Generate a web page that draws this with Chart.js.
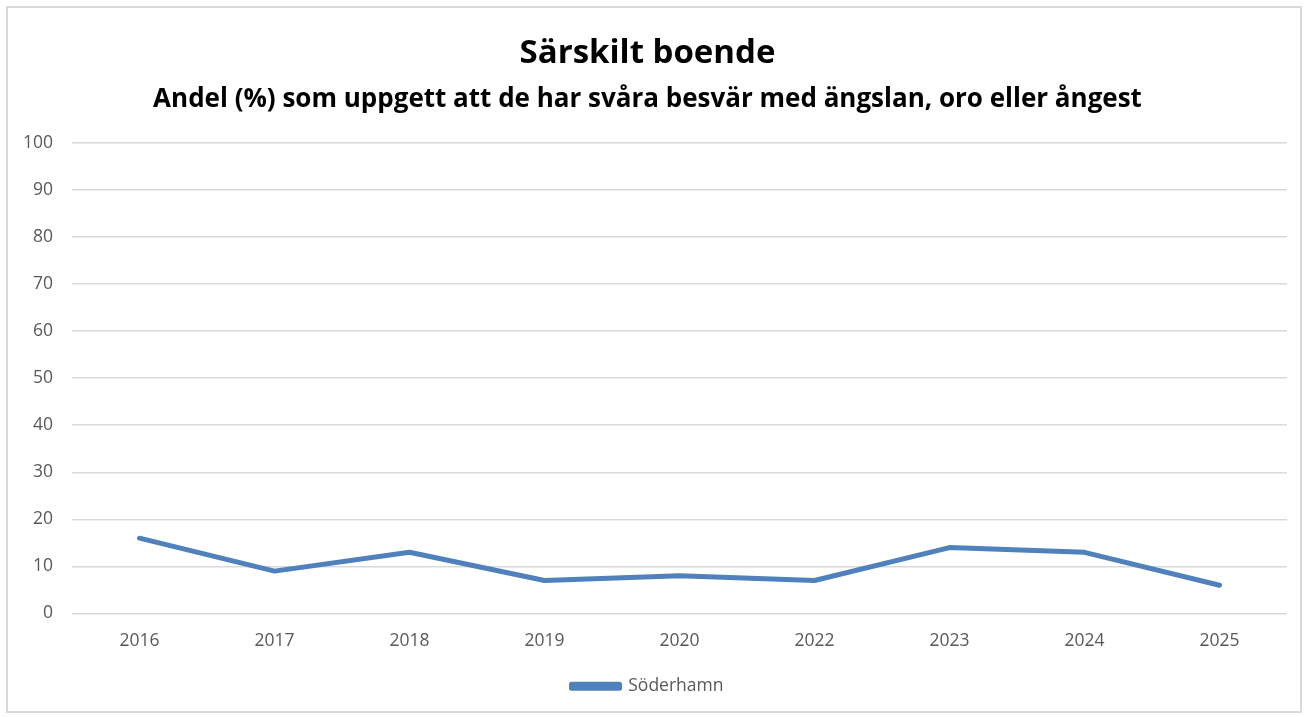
<!DOCTYPE html>
<html>
<head>
<meta charset="utf-8">
<script src="https://cdn.jsdelivr.net/npm/chart.js@4/dist/chart.umd.min.js"></script>
<style>
html,body{margin:0;padding:0;background:#fff;}
#wrap{position:absolute;left:6px;top:6px;width:1292px;height:703px;border:2px solid #d9d9d9;background:#fff;}
canvas{display:block;}
</style>
</head>
<body>
<div id="wrap"><canvas id="c" width="1292" height="703"></canvas></div>
<script>
const categories = ["2016","2017","2018","2019","2020","2022","2023","2024","2025"];
const soderhamn = [16, 9, 13, 7, 8, 7, 14, 13, 6];
const yTicks = [0,10,20,30,40,50,60,70,80,90,100];
const seriesName = "Söderhamn";
const titleText = "Särskilt boende";
const subtitleText = "Andel (%) som uppgett att de har svåra besvär med ängslan, oro eller ångest";

const FONT = "'Open Sans', 'Liberation Sans', sans-serif";
const color = "#4f81bd";

new Chart(document.getElementById('c'), {
  type: 'line',
  data: {
    labels: categories,
    datasets: [{
      label: seriesName,
      data: soderhamn,
      borderColor: color,
      backgroundColor: color,
      borderWidth: 5,
      pointRadius: 0,
      tension: 0,
      borderCapStyle: 'round',
      borderJoinStyle: 'round'
    }]
  },
  options: {
    responsive: false,
    animation: false,
    layout: { padding: { left: 0, right: 13, top: 20, bottom: 6 } },
    plugins: {
      title: {
        display: true,
        text: titleText,
        color: '#000',
        font: { family: FONT, size: 33, weight: 'bold' },
        padding: { top: 6, bottom: 2 }
      },
      subtitle: {
        display: true,
        text: subtitleText,
        color: '#000',
        font: { family: FONT, size: 26, weight: 'bold' },
        padding: { top: 8, bottom: 28 }
      },
      legend: {
        position: 'bottom',
        labels: {
          boxWidth: 48,
          boxHeight: 4,
          color: '#595959',
          font: { family: FONT, size: 17.5 },
          padding: 9
        }
      },
      tooltip: { enabled: false }
    },
    scales: {
      x: {
        offset: true,
        grid: { display: false, drawTicks: false },
        border: { display: false },
        ticks: { color: '#595959', font: { family: FONT, size: 17.5 }, padding: 17 }
      },
      y: {
        min: 0, max: 100,
        afterBuildTicks: (axis) => { axis.ticks = yTicks.map(v => ({ value: v })); },
        afterFit: (axis) => { axis.width = 64; },
        grid: { color: '#d9d9d9', lineWidth: 1.5, drawTicks: false },
        border: { display: false },
        ticks: { color: '#595959', font: { family: FONT, size: 17.5 }, padding: 19 }
      }
    }
  }
});
</script>
</body>
</html>
